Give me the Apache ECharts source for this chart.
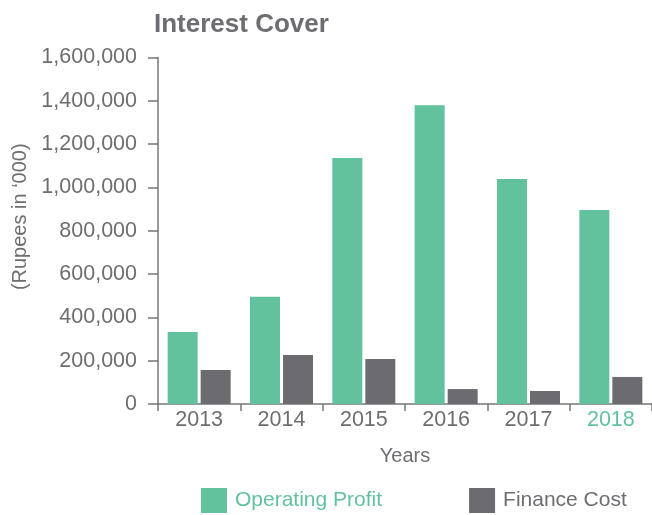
<!DOCTYPE html>
<html>
<head>
<meta charset="utf-8">
<script src="https://cdn.jsdelivr.net/npm/echarts@6/dist/echarts.min.js"></script>
<style>
  html, body { margin: 0; padding: 0; background: #ffffff; }
  #chart { width: 652px; height: 515px; }
</style>
</head>
<body>
<div id="chart"></div>
<script>
// Interest cover: operating profit vs finance cost, Rupees in '000
const years = ['2013', '2014', '2015', '2016', '2017', '2018'];
const operatingProfit = [332000, 495000, 1136000, 1380000, 1039000, 896000];
const financeCost = [157000, 226000, 208000, 69000, 60000, 125000];
const yTicks = [0, 200000, 400000, 600000, 800000, 1000000, 1200000, 1400000, 1600000];

const GREEN = '#62c29d';
const GREY = '#6c6c70';
const TEXT = '#6d6e71';
const AXIS = '#77777a';
const FONT = '"Liberation Sans", Arial, Helvetica, sans-serif';

const chart = echarts.init(document.getElementById('chart'), null, { renderer: 'canvas' });

chart.setOption({
  animation: false,
  textStyle: { fontFamily: FONT },
  title: {
    text: 'Interest Cover',
    left: 149,
    top: 7,
    textStyle: { fontFamily: FONT, fontSize: 26, fontWeight: 'bold', color: TEXT }
  },
  legend: {
    top: 483,
    left: 196,
    itemWidth: 26,
    itemHeight: 25,
    itemGap: 87,
    icon: 'rect',
    data: [
      { name: 'Operating Profit', textStyle: { color: GREEN } },
      { name: 'Finance Cost', textStyle: { color: TEXT } }
    ],
    textStyle: { fontFamily: FONT, fontSize: 21, color: TEXT, padding: [0, 0, 0, 3] }
  },
  grid: { left: 158, right: 0, top: 57.5, bottom: 111, outerBoundsMode: 'none' },
  xAxis: {
    type: 'category',
    data: years,
    name: 'Years',
    nameLocation: 'middle',
    nameGap: 42,
    nameTextStyle: { fontFamily: FONT, fontSize: 20, color: TEXT },
    axisLine: { lineStyle: { color: AXIS, width: 1.5 } },
    axisTick: { show: true, length: 7, lineStyle: { color: AXIS, width: 1.5 } },
    axisLabel: {
      fontFamily: FONT,
      fontSize: 21.5,
      margin: 5,
      color: function (value) { return value === '2018' ? GREEN : TEXT; }
    },
    splitLine: { show: false }
  },
  yAxis: {
    type: 'value',
    min: yTicks[0],
    max: yTicks[yTicks.length - 1],
    interval: yTicks[1] - yTicks[0],
    name: "(Rupees in \u2018000)",
    nameLocation: 'middle',
    nameRotate: 90,
    nameGap: 126,
    nameTextStyle: { fontFamily: FONT, fontSize: 20, color: TEXT, padding: [0, 0, 0, 28] },
    axisLine: { show: true, lineStyle: { color: AXIS, width: 1.5 } },
    axisTick: { show: true, length: 10, lineStyle: { color: AXIS, width: 1.5 } },
    axisLabel: {
      fontFamily: FONT,
      fontSize: 21.5,
      margin: 21,
      color: TEXT,
      formatter: function (v) { return v.toLocaleString('en-US'); }
    },
    splitLine: { show: false }
  },
  series: [
    {
      name: 'Operating Profit',
      type: 'bar',
      data: operatingProfit,
      barWidth: 30,
      barGap: '10%',
      itemStyle: { color: GREEN }
    },
    {
      name: 'Finance Cost',
      type: 'bar',
      data: financeCost,
      barWidth: 30,
      itemStyle: { color: GREY }
    }
  ]
});
</script>
</body>
</html>
